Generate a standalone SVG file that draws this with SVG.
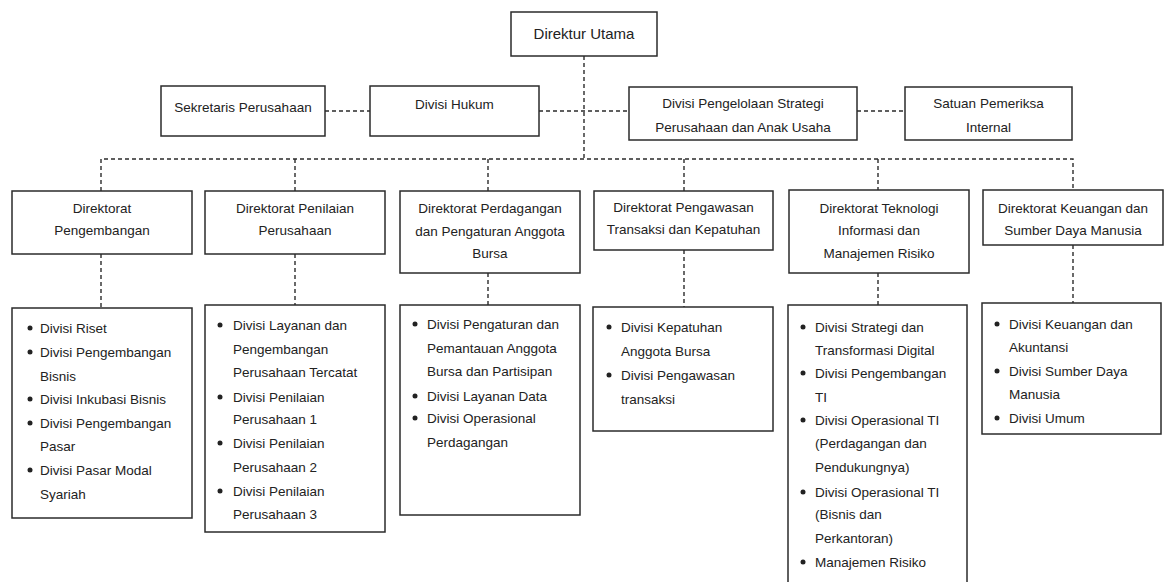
<svg xmlns="http://www.w3.org/2000/svg" width="1165" height="582" viewBox="0 0 1165 582">
<style>
.box{fill:#fff;stroke:#2b2b2b;stroke-width:1.5}
.t{font-family:"Liberation Sans",Arial,sans-serif;font-size:13.5px;fill:#222;text-anchor:middle}
.tl{font-family:"Liberation Sans",Arial,sans-serif;font-size:13.5px;fill:#222}
.big{font-size:15px}
.c{fill:none;stroke:#2b2b2b;stroke-width:1.4;stroke-dasharray:4 3}
.b{fill:#222}
</style>
<rect width="1165" height="582" fill="#fff"/>
<g id="connectors">
<path class="c" d="M584 56V159"/>
<path class="c" d="M325 111H370"/>
<path class="c" d="M539 111H629"/>
<path class="c" d="M857 111H905"/>
<path class="c" d="M101 191V159H1073V190"/>
<path class="c" d="M295 159V191"/>
<path class="c" d="M488 159V191"/>
<path class="c" d="M684 159V191"/>
<path class="c" d="M878 159V190"/>
<path class="c" d="M101 254V308"/>
<path class="c" d="M295 254V305"/>
<path class="c" d="M488 273V305"/>
<path class="c" d="M684 250V307"/>
<path class="c" d="M878 273V305"/>
<path class="c" d="M1073 245V303"/>
</g>
<g id="direktur-utama">
<rect class="box" x="511" y="12" width="146" height="44"/>
<text class="t big" x="584" y="39">Direktur Utama</text>
</g>
<g id="sekretaris">
<rect class="box" x="161" y="86" width="164" height="50"/>
<text class="t" x="243" y="112">Sekretaris Perusahaan</text>
</g>
<g id="hukum">
<rect class="box" x="370" y="86" width="169" height="50"/>
<text class="t" x="454.5" y="109">Divisi Hukum</text>
</g>
<g id="pengelolaan">
<rect class="box" x="629" y="87" width="228" height="53"/>
<text class="t" x="743" y="108">Divisi Pengelolaan Strategi<tspan x="743" y="132">Perusahaan dan Anak Usaha</tspan></text>
</g>
<g id="spi">
<rect class="box" x="905" y="87" width="167" height="53"/>
<text class="t" x="988.5" y="108">Satuan Pemeriksa<tspan x="988.5" y="132">Internal</tspan></text>
</g>
<g id="dir-pengembangan">
<rect class="box" x="12" y="191" width="180" height="63"/>
<text class="t" x="102" y="213">Direktorat<tspan x="102" y="235">Pengembangan</tspan></text>
</g>
<g id="dir-penilaian">
<rect class="box" x="205" y="191" width="180" height="63"/>
<text class="t" x="295" y="213">Direktorat Penilaian<tspan x="295" y="235">Perusahaan</tspan></text>
</g>
<g id="dir-perdagangan">
<rect class="box" x="400" y="191" width="180" height="82"/>
<text class="t" x="490" y="213">Direktorat Perdagangan<tspan x="490" y="236">dan Pengaturan Anggota</tspan><tspan x="490" y="258">Bursa</tspan></text>
</g>
<g id="dir-pengawasan">
<rect class="box" x="594" y="191" width="179" height="59"/>
<text class="t" x="683.5" y="212">Direktorat Pengawasan<tspan x="683.5" y="234">Transaksi dan Kepatuhan</tspan></text>
</g>
<g id="dir-ti">
<rect class="box" x="789" y="190" width="180" height="83"/>
<text class="t" x="879" y="213">Direktorat Teknologi<tspan x="879" y="235">Informasi dan</tspan><tspan x="879" y="258">Manajemen Risiko</tspan></text>
</g>
<g id="dir-keuangan">
<rect class="box" x="983" y="190" width="180" height="55"/>
<text class="t" x="1073" y="213">Direktorat Keuangan dan<tspan x="1073" y="235">Sumber Daya Manusia</tspan></text>
</g>
<g id="list-pengembangan">
<rect class="box" x="12" y="308" width="180" height="210"/>
<circle class="b" cx="30" cy="328" r="2.5"/><circle class="b" cx="30" cy="352" r="2.5"/><circle class="b" cx="30" cy="399" r="2.5"/><circle class="b" cx="30" cy="423" r="2.5"/><circle class="b" cx="30" cy="470" r="2.5"/>
<text class="tl" x="40" y="333">Divisi Riset<tspan x="40" y="357">Divisi Pengembangan</tspan><tspan x="40" y="381">Bisnis</tspan><tspan x="40" y="404">Divisi Inkubasi Bisnis</tspan><tspan x="40" y="428">Divisi Pengembangan</tspan><tspan x="40" y="451">Pasar</tspan><tspan x="40" y="475">Divisi Pasar Modal</tspan><tspan x="40" y="499">Syariah</tspan></text>
</g>
<g id="list-penilaian">
<rect class="box" x="205" y="305" width="180" height="227"/>
<circle class="b" cx="220" cy="325" r="2.5"/><circle class="b" cx="220" cy="397" r="2.5"/><circle class="b" cx="220" cy="443" r="2.5"/><circle class="b" cx="220" cy="491" r="2.5"/>
<text class="tl" x="233" y="330">Divisi Layanan dan<tspan x="233" y="354">Pengembangan</tspan><tspan x="233" y="377">Perusahaan Tercatat</tspan><tspan x="233" y="402">Divisi Penilaian</tspan><tspan x="233" y="424">Perusahaan 1</tspan><tspan x="233" y="448">Divisi Penilaian</tspan><tspan x="233" y="472">Perusahaan 2</tspan><tspan x="233" y="496">Divisi Penilaian</tspan><tspan x="233" y="519">Perusahaan 3</tspan></text>
</g>
<g id="list-perdagangan">
<rect class="box" x="400" y="305" width="180" height="210"/>
<circle class="b" cx="415" cy="324" r="2.5"/><circle class="b" cx="415" cy="396" r="2.5"/><circle class="b" cx="415" cy="418" r="2.5"/>
<text class="tl" x="427" y="329">Divisi Pengaturan dan<tspan x="427" y="353">Pemantauan Anggota</tspan><tspan x="427" y="376">Bursa dan Partisipan</tspan><tspan x="427" y="401">Divisi Layanan Data</tspan><tspan x="427" y="423">Divisi Operasional</tspan><tspan x="427" y="447">Perdagangan</tspan></text>
</g>
<g id="list-pengawasan">
<rect class="box" x="593" y="307" width="180" height="124"/>
<circle class="b" cx="609" cy="327" r="2.5"/><circle class="b" cx="609" cy="375" r="2.5"/>
<text class="tl" x="621" y="332">Divisi Kepatuhan<tspan x="621" y="356">Anggota Bursa</tspan><tspan x="621" y="380">Divisi Pengawasan</tspan><tspan x="621" y="404">transaksi</tspan></text>
</g>
<g id="list-ti">
<rect class="box" x="788" y="305" width="179" height="290"/>
<circle class="b" cx="803" cy="327" r="2.5"/><circle class="b" cx="803" cy="373" r="2.5"/><circle class="b" cx="803" cy="420" r="2.5"/><circle class="b" cx="803" cy="492" r="2.5"/><circle class="b" cx="803" cy="562" r="2.5"/>
<text class="tl" x="815" y="332">Divisi Strategi dan<tspan x="815" y="355">Transformasi Digital</tspan><tspan x="815" y="378">Divisi Pengembangan</tspan><tspan x="815" y="402">TI</tspan><tspan x="815" y="425">Divisi Operasional TI</tspan><tspan x="815" y="448">(Perdagangan dan</tspan><tspan x="815" y="472">Pendukungnya)</tspan><tspan x="815" y="497">Divisi Operasional TI</tspan><tspan x="815" y="519">(Bisnis dan</tspan><tspan x="815" y="543">Perkantoran)</tspan><tspan x="815" y="567">Manajemen Risiko</tspan></text>
</g>
<g id="list-keuangan">
<rect class="box" x="982" y="303" width="179" height="131"/>
<circle class="b" cx="997" cy="324" r="2.5"/><circle class="b" cx="997" cy="371" r="2.5"/><circle class="b" cx="997" cy="418" r="2.5"/>
<text class="tl" x="1009" y="329">Divisi Keuangan dan<tspan x="1009" y="352">Akuntansi</tspan><tspan x="1009" y="376">Divisi Sumber Daya</tspan><tspan x="1009" y="399">Manusia</tspan><tspan x="1009" y="423">Divisi Umum</tspan></text>
</g>
</svg>
